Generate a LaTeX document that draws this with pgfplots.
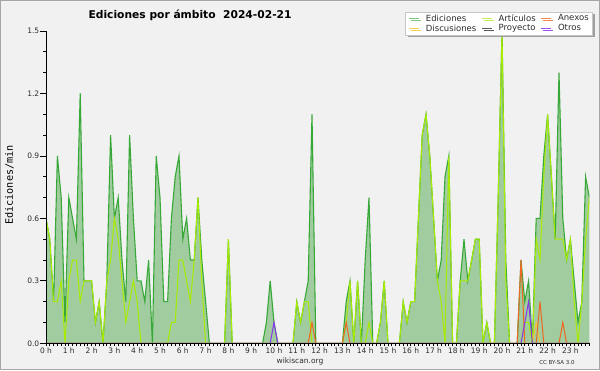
\documentclass[border=0pt]{standalone}
\usepackage{fontspec}
\setmainfont{DejaVu Sans}
\newfontfamily\monofont{DejaVu Sans Mono}
\usepackage{pgfplots}
\pgfplotsset{compat=1.18}
\usepackage{pgfplotstable}
\usetikzlibrary{shadows}

\definecolor{outerbg}{RGB}{241,241,241}
\definecolor{plotbg}{RGB}{235,237,240}
\definecolor{gridcol}{RGB}{200,200,200}
\definecolor{edcol}{RGB}{56,168,56}
\definecolor{fillcol}{RGB}{160,204,160}
\definecolor{artcol}{RGB}{170,236,0}
\definecolor{discol}{RGB}{240,200,50}
\definecolor{procol}{RGB}{90,90,90}
\definecolor{anxcol}{RGB}{238,102,34}
\definecolor{otrcol}{RGB}{136,51,238}
\definecolor{txtcol}{RGB}{45,45,45}

\pgfplotsset{
  layers/mylayers/.define layer set={
    axis background,axis grid,pre main,main,axis ticks,axis lines,axis tick labels,axis descriptions,axis foreground
  }{
    grid style={/pgfplots/on layer=axis grid},
    tick style={/pgfplots/on layer=axis ticks},
    axis line style={/pgfplots/on layer=axis lines},
    label style={/pgfplots/on layer=axis descriptions},
    legend style={/pgfplots/on layer=axis descriptions},
    title style={/pgfplots/on layer=axis descriptions},
    ticklabel style={/pgfplots/on layer=axis tick labels},
    axis background@ style={/pgfplots/on layer=axis background},
  },
}

% i = 10-minute bin (0 = 00:00 ... 143 = 23:50)
\pgfplotstableread{
i tot art dis pro anx otr
0 0.6 0.6 0 0 0 0
1 0.5 0.5 0 0 0 0
2 0.2 0.2 0 0 0 0
3 0.9 0.2 0 0 0 0
4 0.7 0.3 0 0 0 0
5 0.1 0 0 0 0 0
6 0.7 0.3 0 0 0 0
7 0.6 0.4 0 0 0 0
8 0.5 0.4 0 0 0 0
9 1.2 0.2 0 0 0 0
10 0.3 0.3 0 0 0 0
11 0.3 0.3 0 0 0 0
12 0.3 0.3 0 0 0 0
13 0.1 0.1 0 0 0 0
14 0.2 0.2 0 0 0 0
15 0 0 0 0 0 0
16 0.3 0.3 0 0 0 0
17 1.0 0.4 0 0 0 0
18 0.6 0.6 0 0 0 0
19 0.7 0.5 0 0 0 0
20 0.4 0.3 0 0 0 0
21 0.2 0.1 0 0 0 0
22 1.0 0.2 0 0 0 0
23 0.6 0.3 0 0 0 0
24 0.3 0.2 0 0 0 0
25 0.3 0 0 0 0 0
26 0.2 0 0 0 0 0
27 0.4 0 0 0 0 0
28 0 0 0 0 0 0
29 0.9 0 0 0 0 0
30 0.7 0 0 0 0 0
31 0.2 0 0 0 0 0
32 0.2 0 0 0 0 0
33 0.6 0.1 0 0 0 0
34 0.8 0.1 0 0 0 0
35 0.9 0.4 0 0 0 0
36 0.5 0.4 0 0 0 0
37 0.6 0.3 0 0 0 0
38 0.4 0.2 0 0 0 0
39 0.4 0.4 0 0 0 0
40 0.7 0.7 0 0 0 0
41 0.4 0.3 0 0 0 0
42 0.2 0 0 0 0 0
43 0 0 0 0 0 0
44 0 0 0 0 0 0
45 0 0 0 0 0 0
46 0 0 0 0 0 0
47 0 0 0 0 0 0
48 0.5 0.5 0 0 0 0
49 0 0 0 0 0 0
50 0 0 0 0 0 0
51 0 0 0 0 0 0
52 0 0 0 0 0 0
53 0 0 0 0 0 0
54 0 0 0 0 0 0
55 0 0 0 0 0 0
56 0 0 0 0 0 0
57 0 0 0 0 0 0
58 0.1 0 0 0 0 0
59 0.3 0 0 0 0 0
60 0.1 0 0 0 0 0.1
61 0 0 0 0 0 0
62 0 0 0 0 0 0
63 0 0 0 0 0 0
64 0 0 0 0 0 0
65 0 0 0 0 0 0
66 0.2 0.2 0 0 0 0
67 0.1 0.1 0 0 0 0
68 0.2 0.2 0 0 0 0
69 0.3 0.2 0 0 0 0
70 1.1 0 0 0 0.1 0
71 0 0 0 0 0 0
72 0 0 0 0 0 0
73 0 0 0 0 0 0
74 0 0 0 0 0 0
75 0 0 0 0 0 0
76 0 0 0 0 0 0
77 0 0 0 0 0 0
78 0 0 0 0 0 0
79 0.2 0.1 0 0 0.1 0
80 0.3 0.3 0 0 0 0
81 0 0 0 0 0 0
82 0.3 0.3 0 0 0 0
83 0 0 0 0 0 0
84 0.4 0 0 0 0 0
85 0.7 0.1 0 0 0 0
86 0 0 0 0 0 0
87 0 0 0 0 0 0
88 0.1 0.1 0 0 0 0
89 0.3 0.3 0 0 0 0
90 0 0 0 0 0 0
91 0 0 0 0 0 0
92 0 0 0 0 0 0
93 0 0 0 0 0 0
94 0.2 0.2 0 0 0 0
95 0.1 0.1 0 0 0 0
96 0.2 0.2 0 0 0 0
97 0.2 0.2 0 0 0 0
98 0.6 0.6 0 0 0 0
99 1.0 1.0 0 0 0 0
100 1.1 1.1 0 0 0 0
101 0.9 0.9 0 0 0 0
102 0.6 0.6 0 0 0 0
103 0.3 0.3 0 0 0 0
104 0.4 0.2 0 0 0 0
105 0.8 0 0 0 0 0
106 0.9 0.9 0 0 0 0
107 0 0 0 0 0 0
108 0 0 0 0 0 0
109 0.3 0.3 0 0 0 0
110 0.5 0.3 0 0 0 0
111 0.3 0.3 0 0 0 0
112 0.4 0.4 0 0 0 0
113 0.5 0.5 0 0 0 0
114 0.5 0.5 0 0 0 0
115 0 0 0 0 0 0
116 0.1 0.1 0 0 0 0
117 0 0 0 0 0 0
118 0 0 0 0 0 0
119 0.7 0.7 0 0 0 0
120 1.5 1.5 0 0 0 0
121 0.4 0.3 0 0 0 0
122 0 0 0 0 0 0
123 0 0 0 0 0 0
124 0 0 0 0 0 0
125 0.4 0 0 0 0.4 0
126 0.2 0.1 0 0 0 0.1
127 0.3 0.1 0 0 0 0.2
128 0 0 0 0 0 0
129 0.6 0.5 0.1 0 0 0
130 0.6 0.4 0 0 0.2 0
131 0.9 0.8 0 0 0 0
132 1.1 1.1 0 0 0 0
133 0.8 0.8 0 0 0 0
134 0.5 0.5 0 0 0 0
135 1.3 0.5 0 0 0 0
136 0.6 0.5 0 0 0.1 0
137 0.4 0.4 0 0 0 0
138 0.5 0.5 0 0 0 0
139 0.3 0.2 0 0 0 0
140 0.1 0 0 0 0 0
141 0.2 0.2 0 0 0 0
142 0.8 0.5 0 0 0 0
143 0.7 0.7 0 0 0 0
}\datatable

\begin{document}
\begin{tikzpicture}
\fill[outerbg] (0pt,0pt) rectangle (600pt,370pt);
\draw[gray!70, line width=1pt] (0.5pt,0.5pt) rectangle (599.5pt,369.5pt);

\begin{axis}[
  set layers=mylayers,
  at={(46pt,26.7pt)}, anchor=south west,
  scale only axis, width=543.4pt, height=312.3pt,
  xmin=0, xmax=143, ymin=0, ymax=1.5,
  axis background/.style={fill=plotbg},
  axis x line*=bottom, axis y line*=left,
  axis line style={-, black, line width=1pt},
  ytick={0,0.3,0.6,0.9,1.2,1.5},
  yticklabels={0.0,0.3,0.6,0.9,1.2,1.5},
  minor ytick={0.1,0.2,0.4,0.5,0.7,0.8,1.0,1.1,1.3,1.4},
  xtick={0,6,...,138},
  xticklabels={0 h,1 h,2 h,3 h,4 h,5 h,6 h,7 h,8 h,9 h,10 h,11 h,12 h,13 h,14 h,15 h,16 h,17 h,18 h,19 h,20 h,21 h,22 h,23 h},
  minor xtick={0,1,...,143},
  every major x tick/.append style={draw=none},
  tick align=outside,
  major tick length=6pt, minor tick length=3pt,
  tick style={black, line width=0.8pt},
  ymajorgrids, grid style={gridcol, line width=0.8pt},
  ticklabel style={font=\fontsize{7.5}{8}\selectfont, text=txtcol},
  yticklabel style={inner sep=0.6pt},
  xticklabel style={inner sep=0pt, yshift=2pt},
  legend columns=3,
  legend cell align=left,
  legend image code/.code={\draw[#1] (0pt,0pt) -- (10pt,0pt);},
  legend style={at={(1.0066,1.0618)}, anchor=north east,
    draw=gray!45, fill=white, line width=0.8pt,
    font=\fontsize{8.5}{10}\selectfont, text=txtcol,
    inner xsep=3pt, inner ysep=1.5pt,
    nodes={inner sep=0.9pt},
    /tikz/every odd column/.append style={column sep=5.5pt},
    /tikz/every even column/.append style={column sep=4pt},
    drop shadow={shadow xshift=2pt, shadow yshift=-2pt, fill=gray!75, opacity=1}},
]
\addlegendimage{edcol!65, line width=1pt}
\addlegendentry{Ediciones}
\addlegendimage{artcol!70, line width=1pt}
\addlegendentry{Artículos}
\addlegendimage{anxcol!80, line width=1pt}
\addlegendentry{Anexos}
\addlegendimage{discol!85, line width=1pt}
\addlegendentry{Discusiones}
\addlegendimage{procol, line width=1pt}
\addlegendentry{Proyecto}
\addlegendimage{otrcol!85, line width=1pt}
\addlegendentry{Otros}

\addplot[fill=fillcol, draw=none, forget plot] table[x=i, y=tot] {\datatable} \closedcycle;
\addplot[edcol, line width=1.1pt, forget plot] table[x=i, y=tot] {\datatable};
\addplot[artcol, line width=1pt, forget plot] table[x=i, y=art] {\datatable};
\addplot[procol, line width=1pt, forget plot] table[x=i, y=pro] {\datatable};
\addplot[discol, line width=1pt, forget plot] table[x=i, y=dis] {\datatable};
\addplot[anxcol, line width=1pt, forget plot] table[x=i, y=anx] {\datatable};
\addplot[otrcol, line width=1pt, forget plot] table[x=i, y=otr] {\datatable};
\end{axis}

\node[anchor=base west, font=\bfseries\fontsize{10.7}{12}\selectfont, text=black] at (85pt,351.7pt) {Ediciones por ámbito\ \ 2024-02-21};
\node[rotate=90, font=\monofont\fontsize{10.2}{11}\selectfont, text=black] at (9.5pt,185pt) {Ediciones/min};
\node[font=\fontsize{7.5}{8}\selectfont, text=txtcol] at (300pt,9pt) {wikiscan.org};
\node[font=\fontsize{5.5}{6}\selectfont, text=txtcol] at (557pt,8pt) {CC BY-SA 3.0};
\end{tikzpicture}
\end{document}
